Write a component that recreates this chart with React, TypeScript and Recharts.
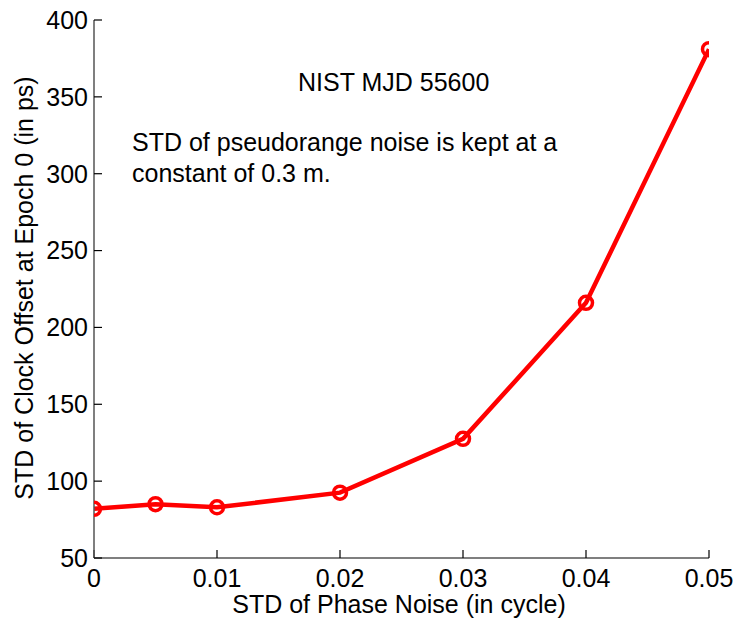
import { Line, LineChart, XAxis, YAxis } from 'recharts';

const phaseNoise = [0, 0.005, 0.01, 0.02, 0.03, 0.04, 0.05];
const clockOffsetStd = [82, 85, 83, 92.5, 127.5, 216, 381];
const xTicks = [0, 0.01, 0.02, 0.03, 0.04, 0.05];
const yTicks = [50, 100, 150, 200, 250, 300, 350, 400];

const data = phaseNoise.map((x, i) => ({ x, y: clockOffsetStd[i] }));

const FONT = '"Liberation Sans", Arial, sans-serif';
const axisLine = { stroke: '#555', strokeWidth: 1.5 };
const tickLine = { stroke: '#000', strokeWidth: 1.2 };
const tickStyle = { fontSize: 25, fill: '#000', fontFamily: FONT };

export default function App() {
  return (
    <div style={{ position: 'absolute', left: 0, top: 0, width: 738, height: 621, background: '#fff' }}>
      <LineChart
        width={738}
        height={621}
        data={data}
        margin={{ top: 20, right: 29, bottom: 0, left: 0 }}
      >
        <XAxis
          xAxisId="b"
          dataKey="x"
          type="number"
          domain={[0, 0.05]}
          ticks={xTicks}
          tickFormatter={v => String(v)}
          height={63}
          tickSize={-8}
          tickMargin={19}
          axisLine={axisLine}
          tickLine={tickLine}
          tick={tickStyle}
          allowDataOverflow
        />
        <XAxis
          xAxisId="t"
          orientation="top"
          dataKey="x"
          type="number"
          domain={[0, 0.05]}
          ticks={xTicks}
          height={0}
          tickSize={-8}
          axisLine={axisLine}
          tickLine={tickLine}
          tick={false}
        />
        <YAxis
          yAxisId="l"
          type="number"
          domain={[50, 400]}
          ticks={yTicks}
          width={94}
          tickSize={-8}
          tickMargin={14}
          axisLine={axisLine}
          tickLine={tickLine}
          tick={tickStyle}
        />
        <YAxis
          yAxisId="r"
          orientation="right"
          type="number"
          domain={[50, 400]}
          ticks={yTicks}
          width={0}
          tickSize={-8}
          axisLine={axisLine}
          tickLine={tickLine}
          tick={false}
        />
        <Line
          xAxisId="b"
          yAxisId="l"
          dataKey="y"
          stroke="#ff0000"
          strokeWidth={4.5}
          dot={{ r: 6.5, fill: 'none', stroke: '#ff0000', strokeWidth: 3.5 }}
          isAnimationActive={false}
        />
        <text x={399} y={613} textAnchor="middle" fontSize={25} fontFamily={FONT} fill="#000">
          STD of Phase Noise (in cycle)
        </text>
        <text
          x={33}
          y={288}
          transform="rotate(-90 33 288)"
          textAnchor="middle"
          fontSize={25}
          fontFamily={FONT}
          fill="#000"
        >
          STD of Clock Offset at Epoch 0 (in ps)
        </text>
        <text x={298} y={91} fontSize={25} fontFamily={FONT} fill="#000">
          NIST MJD 55600
        </text>
        <text x={132} y={151} fontSize={25} fontFamily={FONT} fill="#000">
          STD of pseudorange noise is kept at a
        </text>
        <text x={132} y={182} fontSize={25} fontFamily={FONT} fill="#000">
          constant of 0.3 m.
        </text>
      </LineChart>
    </div>
  );
}
